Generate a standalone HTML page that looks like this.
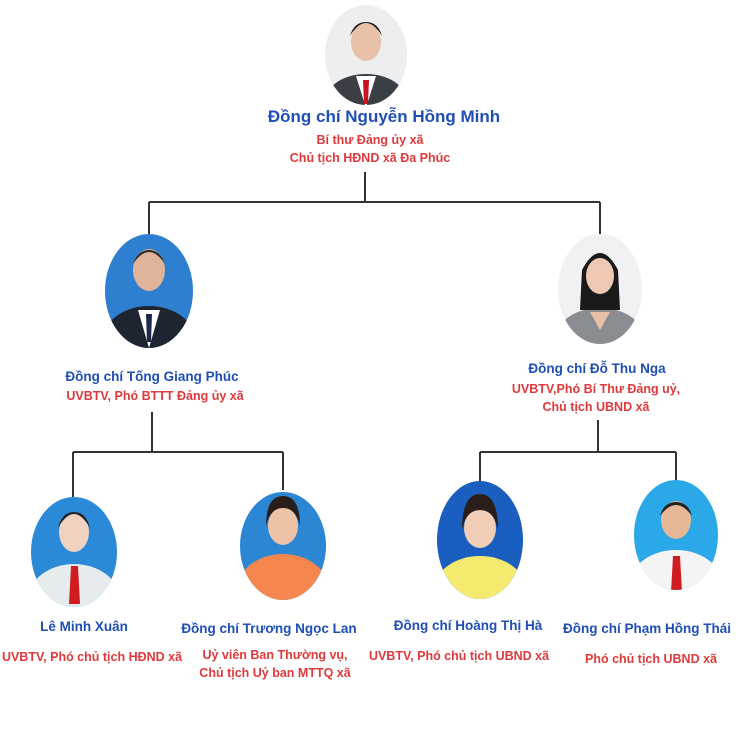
<!DOCTYPE html>
<html><head><meta charset="utf-8"><style>
body{margin:0;width:740px;height:740px;background:#fff;position:relative;overflow:hidden;font-family:"Liberation Sans",sans-serif;font-weight:bold}
.t{position:absolute;white-space:nowrap;transform:translateX(-50%);text-align:center}
.b{color:#1f4fb4;font-size:13.5px}
.r{color:#e0393b;font-size:12.5px;line-height:18px}
svg{position:absolute;left:0;top:0}
</style></head><body>
<svg width="740" height="740">
<g stroke="#333" stroke-width="2" fill="none">
<path d="M365 172V202M149 202H600M149 202V234M600 202V234"/>
<path d="M152 412V452M73 452H283M73 452V497M283 452V490"/>
<path d="M598 420V452M480 452H676M480 452V482M676 452V482"/>
</g>
<defs>
<clipPath id="c0"><ellipse cx="366" cy="55" rx="41" ry="50"/></clipPath>
<clipPath id="c1"><ellipse cx="149" cy="291" rx="44" ry="57"/></clipPath>
<clipPath id="c2"><ellipse cx="600" cy="289" rx="42" ry="55"/></clipPath>
<clipPath id="c3"><ellipse cx="74" cy="552" rx="43" ry="55"/></clipPath>
<clipPath id="c4"><ellipse cx="283" cy="546" rx="43" ry="54"/></clipPath>
<clipPath id="c5"><ellipse cx="480" cy="540" rx="43" ry="59"/></clipPath>
<clipPath id="c6"><ellipse cx="676" cy="535" rx="42" ry="55"/></clipPath>
</defs>
<g clip-path="url(#c0)"><rect x="320" y="0" width="95" height="110" fill="#eceef0"/><ellipse cx="366" cy="100" rx="40" ry="26" fill="#3a3f46"/><path d="M356 76L366 108L376 76Z" fill="#fff"/><path d="M363 80L369 80L368 104L364 104Z" fill="#c8141e"/><ellipse cx="366" cy="42" rx="15" ry="19" fill="#e8c2a8"/><path d="M350 36Q366 10 382 36Q378 22 366 22Q354 22 350 36Z" fill="#222"/></g>
<g clip-path="url(#c1)"><rect x="100" y="230" width="100" height="120" fill="#2e7fd0"/><ellipse cx="149" cy="340" rx="46" ry="34" fill="#1f2530"/><path d="M138 310L149 348L160 310Z" fill="#fff"/><path d="M146 314L152 314L151 342L147 342Z" fill="#1c2a4a"/><ellipse cx="149" cy="270" rx="16" ry="21" fill="#e0b49a"/><path d="M133 264Q149 240 165 264Q160 250 149 250Q138 250 133 264Z" fill="#2a2a2a"/></g>
<g clip-path="url(#c2)"><rect x="555" y="230" width="95" height="120" fill="#f1f1f3"/><ellipse cx="600" cy="338" rx="44" ry="30" fill="#8a8d92"/><path d="M590 312L600 330L610 312Z" fill="#e8c2a8"/><path d="M582 270Q600 236 618 270L620 310L580 310Z" fill="#1a1a1a"/><ellipse cx="600" cy="276" rx="14" ry="18" fill="#eec8b0"/></g>
<g clip-path="url(#c3)"><rect x="28" y="495" width="95" height="115" fill="#2b8ad8"/><ellipse cx="74" cy="600" rx="46" ry="36" fill="#e6ecee"/><path d="M71 566L78 566L80 604L69 604Z" fill="#d01c20"/><ellipse cx="74" cy="532" rx="15" ry="20" fill="#f0d2c0"/><path d="M58 528Q74 500 90 528Q86 512 74 512Q62 512 58 528Z" fill="#222"/></g>
<g clip-path="url(#c4)"><rect x="238" y="490" width="95" height="112" fill="#2b86d4"/><ellipse cx="283" cy="590" rx="46" ry="36" fill="#f5864e"/><ellipse cx="283" cy="526" rx="15" ry="19" fill="#eec2a6"/><path d="M266 526Q266 496 283 496Q300 496 300 526Q296 508 283 508Q270 508 266 526Z" fill="#2a1e1a"/></g>
<g clip-path="url(#c5)"><rect x="435" y="478" width="95" height="125" fill="#1a5fc0"/><ellipse cx="480" cy="590" rx="46" ry="34" fill="#f5ea70"/><ellipse cx="480" cy="528" rx="16" ry="20" fill="#f2cdb8"/><path d="M462 530Q462 494 480 494Q498 494 498 530Q494 510 480 510Q466 510 462 530Z" fill="#2a1e1a"/></g>
<g clip-path="url(#c6)"><rect x="632" y="478" width="95" height="115" fill="#2aa8e8"/><ellipse cx="676" cy="584" rx="46" ry="34" fill="#f4f4f4"/><path d="M673 556L680 556L682 592L671 592Z" fill="#d01c20"/><ellipse cx="676" cy="520" rx="15" ry="19" fill="#e6b896"/><path d="M660 516Q676 494 692 516Q688 502 676 502Q664 502 660 516Z" fill="#222"/></g>
</svg>
<div class="t b" style="left:384px;top:107px;font-size:17px">Đồng chí Nguyễn Hồng Minh</div>
<div class="t r" style="left:370px;top:131px">Bí thư Đảng ủy xã<br>Chủ tịch HĐND xã Đa Phúc</div>
<div class="t b" style="left:152px;top:369px">Đồng chí Tống Giang Phúc</div>
<div class="t r" style="left:155px;top:387px">UVBTV, Phó BTTT Đảng ủy xã</div>
<div class="t b" style="left:597px;top:361px">Đồng chí Đỗ Thu Nga</div>
<div class="t r" style="left:596px;top:380px">UVBTV,Phó Bí Thư Đảng uỷ,<br>Chủ tịch UBND xã</div>
<div class="t b" style="left:84px;top:619px">Lê Minh Xuân</div>
<div class="t r" style="left:92px;top:648px">UVBTV, Phó chủ tịch HĐND xã</div>
<div class="t b" style="left:269px;top:621px">Đồng chí Trương Ngọc Lan</div>
<div class="t r" style="left:275px;top:646px">Uỷ viên Ban Thường vụ,<br>Chủ tịch Uỷ ban MTTQ xã</div>
<div class="t b" style="left:468px;top:618px">Đồng chí Hoàng Thị Hà</div>
<div class="t r" style="left:459px;top:647px">UVBTV, Phó chủ tịch UBND xã</div>
<div class="t b" style="left:647px;top:621px">Đồng chí Phạm Hồng Thái</div>
<div class="t r" style="left:651px;top:650px">Phó chủ tịch UBND xã</div>
</body></html>
